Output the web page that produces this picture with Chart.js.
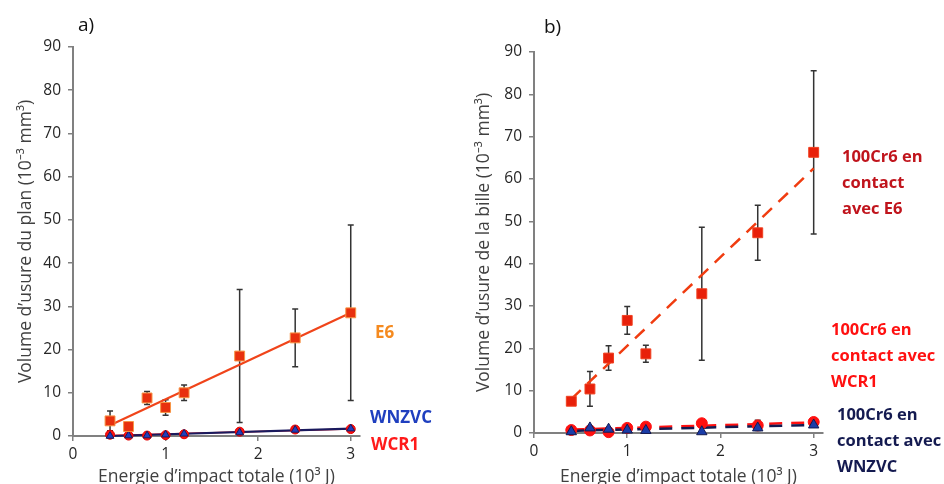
<!DOCTYPE html>
<html lang="fr">
<head>
    <meta charset="UTF-8">
    <title>Volume d'usure - plan et bille</title>
    <style>
        body {
            margin: 0;
            padding: 0;
            background: #fff;
            width: 944px;
            height: 484px;
            overflow: hidden;
            position: relative;
            font-family: "Open Sans", Arial, sans-serif;
        }

        .panel {
            position: absolute;
            top: 0;
            height: 484px;
        }

        #panelA { left: 0; width: 470px; }
        #panelB { left: 470px; width: 474px; }

        /* panel letters and series labels */
        .tag {
            position: absolute;
            font-size: 19px;
            color: #111;
        }

        .lbl {
            position: absolute;
            font-weight: bold;
            font-size: 16.5px;
            line-height: 26px;
            white-space: nowrap;
        }
    </style>
</head>
<body>

    <div class="panel" id="panelA"><canvas id="chartPlan" width="470" height="484"></canvas></div>
    <div class="panel" id="panelB"><canvas id="chartBille" width="474" height="484"></canvas></div>

    <div class="tag" style="left:78px; top:11px;">a)</div>
    <div class="tag" style="left:544px; top:13px;">b)</div>

    <div class="lbl" style="left:375px; top:319px; color:#f58a1f; font-size:17px;">E6</div>
    <div class="lbl" style="left:370px; top:404px; color:#1f3fbf; font-size:17px;">WNZVC</div>
    <div class="lbl" style="left:371px; top:431px; color:#ff1a1a; font-size:17px;">WCR1</div>

    <div class="lbl" style="left:842px; top:143px; color:#c0141c;">100Cr6 en<br>contact<br>avec E6</div>
    <div class="lbl" style="left:831px; top:316px; color:#ff1010;">100Cr6 en<br>contact avec<br>WCR1</div>
    <div class="lbl" style="left:837px; top:401px; color:#141a50;">100Cr6 en<br>contact avec<br>WNZVC</div>

    <script src="https://cdn.jsdelivr.net/npm/chart.js"></script>
    <script>
        // Energie d'impact totale (10^3 J)
        const energy = [0.4, 0.6, 0.8, 1.0, 1.2, 1.8, 2.4, 3.0];
        const xTicks = [0, 1, 2, 3];
        const trendX = [0.4, 3.0];

        // a) volume d'usure du plan
        const planE6 = [3.5, 2.2, 8.8, 6.6, 10.0, 18.5, 22.7, 28.5];
        const planE6Err = [2.3, 0.9, 1.5, 1.8, 1.8, 15.4, 6.7, 20.3];
        const planWCR1 = [0.3, 0.1, 0.1, 0.2, 0.4, 1.0, 1.5, 1.6];
        const planWNZVC = [0.0, 0.1, 0.1, 0.3, 0.5, 0.8, 1.4, 1.7];
        const planE6Trend = [2.5, 28.5];
        const planWCR1Trend = [0.1, 1.6];
        const planWNZVCTrend = [0.0, 1.7];

        // b) volume d'usure de la bille
        const billeE6 = [7.5, 10.4, 17.7, 26.6, 18.7, 32.9, 47.3, 66.3];
        const billeE6Err = [0, 4.1, 2.9, 3.3, 2.0, 15.7, 6.5, 19.3];
        const billeWCR1 = [0.7, 0.6, 0.2, 1.2, 1.5, 2.3, 1.8, 2.6];
        const billeWCR1Err = [0, 0, 0, 0, 0, 0, 1.2, 0];
        const billeWNZVC = [0.3, 1.2, 0.9, 0.7, 0.6, 0.3, 1.2, 1.9];
        const billeE6Trend = [8.0, 62.5];
        const billeWCR1Trend = [0.8, 2.5];
        const billeWNZVCTrend = [0.5, 1.9];

        function pts(xs, ys) {
            return xs.map((x, i) => ({ x: x, y: ys[i] }));
        }

        // simple error bar plugin, uses the chart scales
        const errorBars = {
            id: 'errorBars',
            beforeDatasetsDraw(chart) {
                const ctx = chart.ctx;
                const xs = chart.scales.x, ys = chart.scales.y;
                ctx.save();
                ctx.strokeStyle = '#333';
                ctx.lineWidth = 1.5;
                chart.data.datasets.forEach(ds => {
                    if (!ds.errors) return;
                    ds.data.forEach((p, i) => {
                        const e = ds.errors[i];
                        if (!e) return;
                        const px = xs.getPixelForValue(p.x);
                        const top = ys.getPixelForValue(p.y + e);
                        const bot = ys.getPixelForValue(p.y - e);
                        ctx.beginPath();
                        ctx.moveTo(px, top); ctx.lineTo(px, bot);
                        ctx.moveTo(px - 3, top); ctx.lineTo(px + 3, top);
                        ctx.moveTo(px - 3, bot); ctx.lineTo(px + 3, bot);
                        ctx.stroke();
                    });
                });
                ctx.restore();
            }
        };

        const tickFont = { family: 'Open Sans', size: 15.5 };
        const titleFont = { family: 'Open Sans', size: 17.5 };

        function makeOptions(cfg) {
            return {
                responsive: false,
                animation: false,
                layout: { padding: cfg.padding },
                plugins: { legend: { display: false }, tooltip: { enabled: false } },
                scales: {
                    x: {
                        type: 'linear',
                        min: 0,
                        max: 3.1,
                        afterBuildTicks: s => { s.ticks = xTicks.map(v => ({ value: v })); },
                        afterFit: s => { s.height = cfg.xHeight; },
                        ticks: { font: tickFont, color: '#262626', padding: 4 },
                        grid: { drawOnChartArea: false, tickLength: 5, color: '#808080', lineWidth: 1.5 },
                        border: { color: '#808080', width: 2 },
                        title: {
                            display: true,
                            text: 'Energie d\u2019impact totale (10\u00B3 J)',
                            font: titleFont,
                            color: '#404040',
                            padding: { top: 0, bottom: -4 }
                        }
                    },
                    y: {
                        min: 0,
                        max: 90,
                        afterFit: s => { s.width = cfg.yWidth; },
                        ticks: { stepSize: 10, font: tickFont, color: '#262626', padding: 7 },
                        grid: { drawOnChartArea: false, tickLength: 5, color: '#808080', lineWidth: 1.5 },
                        border: { color: '#808080', width: 2 },
                        title: {
                            display: true,
                            text: cfg.yTitle,
                            font: titleFont,
                            color: '#404040',
                            padding: { top: cfg.yTitlePad, bottom: 0 }
                        }
                    }
                }
            };
        }

        // a) plan
        new Chart(document.getElementById('chartPlan'), {
            type: 'scatter',
            data: {
                datasets: [
                    {
                        data: pts(energy, planE6), errors: planE6Err,
                        pointStyle: 'rect', pointRadius: 7,
                        backgroundColor: '#e8300e', borderColor: '#f79646', borderWidth: 1, clip: false
                    },
                    {
                        data: pts(energy, planWNZVC),
                        pointStyle: 'triangle', pointRadius: 4.5,
                        backgroundColor: '#1f3fbf', borderColor: '#1a1a5e', borderWidth: 1, clip: false
                    },
                    {
                        data: pts(energy, planWCR1),
                        pointStyle: 'circle', pointRadius: 4.5,
                        backgroundColor: '#ff1010', borderColor: '#e00000', borderWidth: 1, clip: false
                    },
                    {
                        data: pts(trendX, planE6Trend), showLine: true, pointRadius: 0,
                        borderColor: '#f0441a', borderWidth: 2.2, clip: false
                    },
                    {
                        data: pts(trendX, planWNZVCTrend), showLine: true, pointRadius: 0,
                        borderColor: '#1a1a5e', borderWidth: 2.2, clip: false
                    },
                    {
                        data: pts(trendX, planWCR1Trend), showLine: true, pointRadius: 0,
                        borderColor: '#ff1010', borderWidth: 1.5, clip: false
                    }
                ]
            },
            options: makeOptions({
                padding: { left: 0, top: 47, right: 110, bottom: 0 },
                xHeight: 48,
                yWidth: 73,
                yTitle: 'Volume d\u2019usure du plan (10\u207B\u00B3 mm\u00B3)',
                yTitlePad: 16
            }),
            plugins: [errorBars]
        });

        // b) bille
        new Chart(document.getElementById('chartBille'), {
            type: 'scatter',
            data: {
                datasets: [
                    {
                        data: pts(energy, billeE6), errors: billeE6Err,
                        pointStyle: 'rect', pointRadius: 7,
                        backgroundColor: '#e8200a', borderColor: '#f04020', borderWidth: 1, clip: false
                    },
                    {
                        data: pts(energy, billeWNZVC),
                        pointStyle: 'triangle', pointRadius: 6,
                        backgroundColor: '#1a3ca8', borderColor: '#141a50', borderWidth: 1, clip: false
                    },
                    {
                        data: pts(energy, billeWCR1), errors: billeWCR1Err,
                        pointStyle: 'circle', pointRadius: 5.5,
                        backgroundColor: '#ff1010', borderColor: '#ff1010', borderWidth: 1, clip: false
                    },
                    {
                        data: pts(trendX, billeE6Trend), showLine: true, pointRadius: 0,
                        borderColor: '#f03c10', borderWidth: 2.5, borderDash: [13, 9], clip: false
                    },
                    {
                        data: pts(trendX, billeWNZVCTrend), showLine: true, pointRadius: 0,
                        borderColor: '#141a50', borderWidth: 2.5, borderDash: [13, 9], clip: false
                    },
                    {
                        data: pts(trendX, billeWCR1Trend), showLine: true, pointRadius: 0,
                        borderColor: '#ff1010', borderWidth: 2.5, borderDash: [13, 9], clip: false
                    }
                ]
            },
            options: makeOptions({
                padding: { left: 0, top: 52, right: 121, bottom: 0 },
                xHeight: 51,
                yWidth: 64,
                yTitle: 'Volume d\u2019usure de la bille (10\u207B\u00B3 mm\u00B3)',
                yTitlePad: 4
            }),
            plugins: [errorBars]
        });
    </script>

</body>
</html>
